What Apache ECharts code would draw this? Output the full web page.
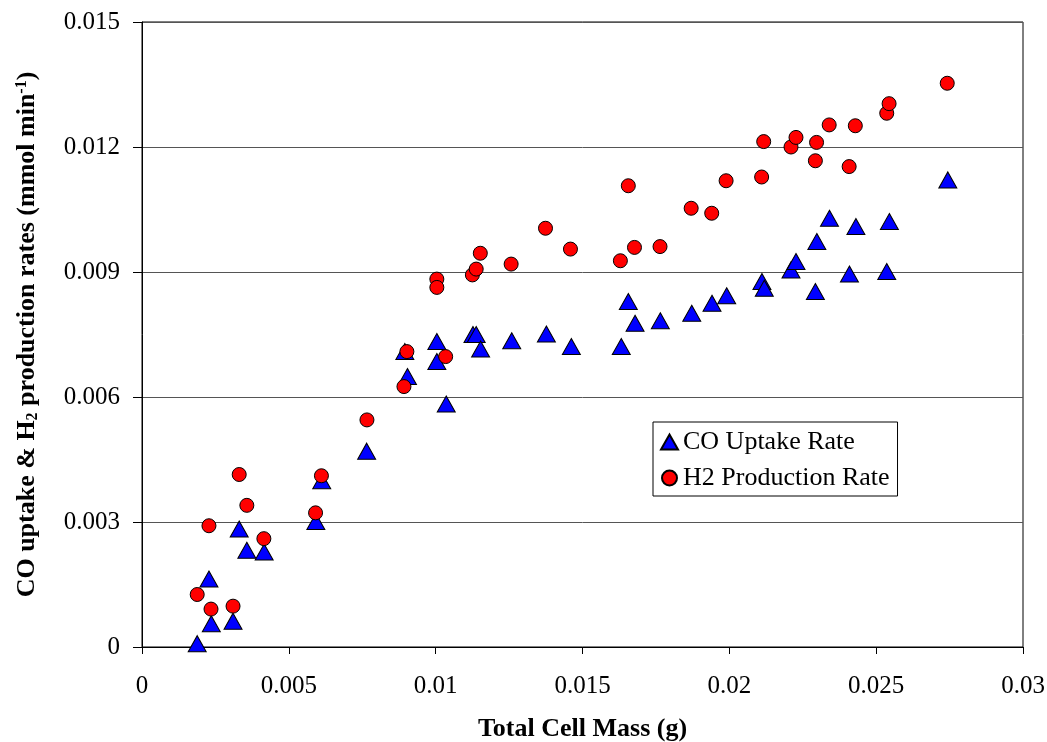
<!DOCTYPE html>
<html>
<head>
<meta charset="utf-8">
<title>CO uptake and H2 production vs cell mass</title>
<script src="https://cdn.jsdelivr.net/npm/echarts@6/dist/echarts.min.js"></script>
<style>
  html, body { margin: 0; padding: 0; background: #fff; }
  #chart { width: 1047px; height: 742px; }
</style>
</head>
<body>
<div id="chart"></div>
<script>
// CO uptake rate (triangles)
var coMass = [0.00188, 0.00228, 0.00236, 0.00310, 0.00331, 0.00357, 0.00416, 0.00592, 0.00612, 0.00765,
              0.00895, 0.00904, 0.01004, 0.01004, 0.01036, 0.01127, 0.01138, 0.01153, 0.01259, 0.01377,
              0.01462, 0.01632, 0.01656, 0.01679, 0.01765, 0.01872, 0.01941, 0.01991, 0.02111, 0.02119,
              0.02210, 0.02227, 0.02298, 0.02293, 0.02341, 0.02409, 0.02431, 0.02536, 0.02545, 0.02744];
var coRate = [0.00008, 0.00163, 0.00056, 0.00062, 0.00283, 0.00232, 0.00228, 0.00301, 0.00399, 0.00470,
              0.00709, 0.00649, 0.00733, 0.00685, 0.00583, 0.00750, 0.00750, 0.00715, 0.00735, 0.00751,
              0.00721, 0.00721, 0.00829, 0.00777, 0.00783, 0.00801, 0.00825, 0.00843, 0.00877, 0.00861,
              0.00905, 0.00925, 0.00973, 0.00853, 0.01029, 0.00895, 0.01009, 0.00901, 0.01021, 0.01121];

// H2 production rate (circles)
var h2Mass = [0.00188, 0.00235, 0.00228, 0.00310, 0.00331, 0.00357, 0.00415, 0.00591, 0.00611, 0.00766,
              0.00892, 0.00902, 0.01034, 0.01004, 0.01004, 0.01125, 0.01138, 0.01152, 0.01257, 0.01374,
              0.01459, 0.01629, 0.01656, 0.01677, 0.01764, 0.01870, 0.01940, 0.01989, 0.02110, 0.02117,
              0.02210, 0.02227, 0.02293, 0.02297, 0.02340, 0.02408, 0.02429, 0.02536, 0.02544, 0.02742];
var h2Rate = [0.00126, 0.00091, 0.00291, 0.00098, 0.00414, 0.00340, 0.00260, 0.00322, 0.00411, 0.00545,
              0.00625, 0.00709, 0.00697, 0.00883, 0.00863, 0.00893, 0.00907, 0.00945, 0.00919, 0.01005,
              0.00955, 0.00927, 0.01107, 0.00959, 0.00961, 0.01053, 0.01041, 0.01119, 0.01128, 0.01213,
              0.01200, 0.01223, 0.01167, 0.01211, 0.01253, 0.01153, 0.01251, 0.01281, 0.01304, 0.01353];

var seriesNames = ['CO Uptake Rate', 'H2 Production Rate'];

function pairs(xs, ys) {
    var out = [];
    for (var i = 0; i < xs.length; i++) {
        out.push([xs[i], ys[i]]);
    }
    return out;
}

var serif = 'Liberation Serif, Times New Roman, serif';

var myChart = echarts.init(document.getElementById('chart'));
var option = {
    backgroundColor: '#fff',
    animation: false,
    grid: {
        left: 142, right: 24, top: 22, bottom: 95,
        outerBoundsMode: 'none',
        show: true, borderColor: '#000', borderWidth: 1
    },
    legend: {
        data: seriesNames,
        orient: 'vertical',
        left: 653, top: 422,
        padding: [7, 8, 5, 7],
        itemGap: 10,
        itemWidth: 17,
        itemHeight: 15,
        backgroundColor: '#fff',
        borderColor: '#000',
        borderWidth: 1,
        textStyle: { fontFamily: serif, fontSize: 26, color: '#000' }
    },
    xAxis: {
        type: 'value',
        min: 0, max: 0.03, interval: 0.005,
        name: 'Total Cell Mass (g)',
        nameLocation: 'middle',
        nameGap: 69,
        nameTextStyle: { fontFamily: serif, fontSize: 26, fontWeight: 'bold', color: '#000' },
        axisLine: { lineStyle: { color: '#000', width: 1 } },
        axisTick: { show: true, length: 7, lineStyle: { color: '#000' } },
        axisLabel: {
            margin: 27, fontFamily: serif, fontSize: 25, color: '#000',
            formatter: function (v) { return String(+v.toFixed(4)); }
        },
        splitLine: { show: false }
    },
    yAxis: {
        type: 'value',
        min: 0, max: 0.015, interval: 0.003,
        name: 'CO uptake & H{sub|2} production rates (mmol min{sup|-1})',
        nameLocation: 'middle',
        nameGap: 101,
        nameTextStyle: {
            fontFamily: serif, fontSize: 26, fontWeight: 'bold', color: '#000',
            rich: {
                sub: { fontFamily: serif, fontSize: 16, fontWeight: 'bold', color: '#000', padding: [11, 0, 0, 0] },
                sup: { fontFamily: serif, fontSize: 16, fontWeight: 'bold', color: '#000', padding: [0, 0, 11, 0] }
            }
        },
        axisLine: { lineStyle: { color: '#000', width: 1 } },
        axisTick: { show: true, length: 9, lineStyle: { color: '#000' } },
        axisLabel: {
            margin: 22, fontFamily: serif, fontSize: 25, color: '#000',
            formatter: function (v) { return String(+v.toFixed(4)); }
        },
        splitLine: { show: true, lineStyle: { color: '#555', width: 1 } }
    },
    series: [
        {
            name: seriesNames[0],
            type: 'scatter',
            symbol: 'triangle',
            symbolSize: [18, 16],
            itemStyle: { color: '#0000FF', borderColor: '#000', borderWidth: 1, opacity: 1 },
            data: pairs(coMass, coRate)
        },
        {
            name: seriesNames[1],
            type: 'scatter',
            symbol: 'circle',
            symbolSize: 14,
            itemStyle: { color: '#FF0000', borderColor: '#000', borderWidth: 1, opacity: 1 },
            data: pairs(h2Mass, h2Rate)
        }
    ]
};
myChart.setOption(option);
</script>
</body>
</html>
